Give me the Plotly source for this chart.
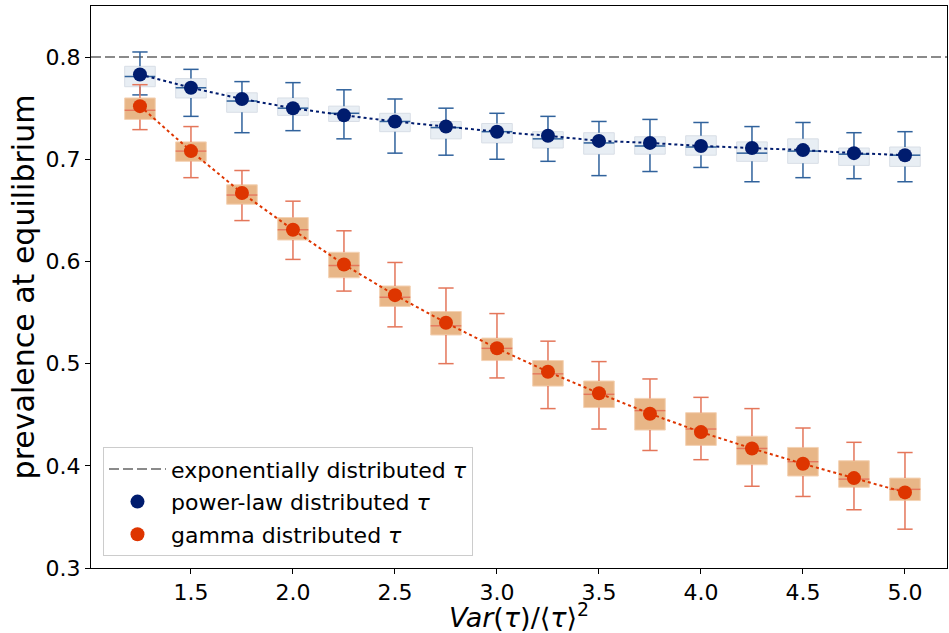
import plotly.graph_objects as go

# ---------------- data ----------------
x_vals = [1.25, 1.5, 1.75, 2.0, 2.25, 2.5, 2.75, 3.0, 3.25, 3.5, 3.75, 4.0, 4.25, 4.5, 4.75, 5.0]

pl_mean   = [0.783, 0.770, 0.759, 0.750, 0.743, 0.737, 0.732, 0.727, 0.723, 0.718, 0.716, 0.713, 0.711, 0.709, 0.706, 0.704]
pl_median = [0.781, 0.770, 0.757, 0.750, 0.745, 0.737, 0.731, 0.727, 0.720, 0.716, 0.713, 0.712, 0.706, 0.708, 0.705, 0.704]
pl_q1     = [0.771, 0.760, 0.746, 0.743, 0.737, 0.727, 0.720, 0.716, 0.711, 0.705, 0.705, 0.704, 0.698, 0.696, 0.694, 0.693]
pl_q3     = [0.791, 0.779, 0.765, 0.760, 0.752, 0.745, 0.737, 0.735, 0.727, 0.726, 0.722, 0.723, 0.717, 0.720, 0.711, 0.712]
pl_lower  = [0.763, 0.742, 0.726, 0.728, 0.720, 0.706, 0.704, 0.700, 0.698, 0.684, 0.688, 0.692, 0.678, 0.682, 0.681, 0.678]
pl_upper  = [0.805, 0.788, 0.776, 0.775, 0.768, 0.759, 0.750, 0.745, 0.742, 0.737, 0.739, 0.736, 0.732, 0.736, 0.726, 0.727]

ga_mean   = [0.752, 0.708, 0.667, 0.631, 0.597, 0.567, 0.540, 0.515, 0.492, 0.471, 0.451, 0.433, 0.417, 0.402, 0.388, 0.374]
ga_median = [0.748, 0.708, 0.665, 0.631, 0.596, 0.565, 0.537, 0.515, 0.490, 0.470, 0.454, 0.436, 0.417, 0.404, 0.387, 0.377]
ga_q1     = [0.739, 0.698, 0.656, 0.621, 0.584, 0.556, 0.528, 0.503, 0.478, 0.457, 0.435, 0.420, 0.401, 0.390, 0.379, 0.366]
ga_q3     = [0.760, 0.717, 0.675, 0.643, 0.609, 0.576, 0.551, 0.525, 0.503, 0.483, 0.466, 0.452, 0.429, 0.418, 0.405, 0.388]
ga_lower  = [0.729, 0.682, 0.640, 0.602, 0.571, 0.536, 0.500, 0.486, 0.456, 0.436, 0.415, 0.406, 0.380, 0.370, 0.357, 0.338]
ga_upper  = [0.773, 0.732, 0.689, 0.659, 0.630, 0.599, 0.574, 0.549, 0.522, 0.502, 0.485, 0.467, 0.456, 0.437, 0.423, 0.413]

exp_level = 0.8

x_ticks = [1.5, 2.0, 2.5, 3.0, 3.5, 4.0, 4.5, 5.0]
y_ticks = [0.3, 0.4, 0.5, 0.6, 0.7, 0.8]

names = ["exponentially distributed <i>τ</i>", "power-law distributed <i>τ</i>", "gamma distributed <i>τ</i>"]

# ---------------- style ----------------
FONT = "DejaVu Sans"
BOX_W = 0.15
CAP_HALF = BOX_W / 4

styles = {
    "pl": dict(marker="#001c6e", whisk="#30629c", fill="rgba(220,229,238,0.65)", edge="#d8dee6"),
    "ga": dict(marker="#de3500", whisk="#e4765a", fill="rgba(227,166,108,0.82)", edge="#f4d2b4"),
}

fig = go.Figure()


def add_series(key, mean, med, q1, q3, lo, hi):
    st = styles[key]
    # boxes
    fig.add_trace(go.Box(
        x=x_vals, q1=q1, median=med, q3=q3, lowerfence=q1, upperfence=q3,
        width=BOX_W, fillcolor=st["fill"], line=dict(color=st["edge"], width=1),
        boxpoints=False, whiskerwidth=0, showlegend=False, hoverinfo="skip",
    ))
    # whiskers, caps and medians built from the data arrays
    wx, wy = [], []
    for x, a, b, c, d, m in zip(x_vals, q1, q3, lo, hi, med):
        wx += [x, x, None, x, x, None]
        wy += [b, d, None, a, c, None]
        wx += [x - CAP_HALF, x + CAP_HALF, None, x - CAP_HALF, x + CAP_HALF, None]
        wy += [d, d, None, c, c, None]
        wx += [x - BOX_W / 2, x + BOX_W / 2, None]
        wy += [m, m, None]
    fig.add_trace(go.Scatter(
        x=wx, y=wy, mode="lines", line=dict(color=st["whisk"], width=1.5),
        showlegend=False, hoverinfo="skip",
    ))
    return st


st_pl = add_series("pl", pl_mean, pl_median, pl_q1, pl_q3, pl_lower, pl_upper)
st_ga = add_series("ga", ga_mean, ga_median, ga_q1, ga_q3, ga_lower, ga_upper)

for mean, st, name, grp, rank in [(pl_mean, st_pl, names[1], "b", 2), (ga_mean, st_ga, names[2], "c", 3)]:
    fig.add_trace(go.Scatter(
        x=x_vals, y=mean, mode="lines", line=dict(color=st["marker"], width=2, dash="dot"),
        showlegend=False, hoverinfo="skip",
    ))
    fig.add_trace(go.Scatter(
        x=x_vals, y=mean, mode="markers", name=name, legendgroup=grp, legendrank=rank,
        marker=dict(color=st["marker"], size=14, line=dict(width=0)),
    ))

fig.add_hline(
    y=exp_level, line=dict(color="#8a8a8a", width=2, dash="10px,4px"),
    showlegend=True, name=names[0], legendgroup="a", legendrank=1, layer="below",
)

axis_common = dict(
    showline=True, linecolor="black", linewidth=1, mirror=True,
    ticks="outside", ticklen=5, tickwidth=1, tickcolor="black",
    showgrid=False, zeroline=False,
    tickfont=dict(family=FONT, size=22, color="black"),
)

fig.update_layout(
    width=949, height=633,
    margin=dict(l=91, r=2, t=6, b=65),
    plot_bgcolor="white", paper_bgcolor="white",
    boxmode="overlay",
    font=dict(family=FONT, color="black"),
    xaxis=dict(
        range=[1.01, 5.206], tickvals=x_ticks, ticktext=[f"{v:.1f}" for v in x_ticks],
        title=dict(text="<i>Var</i>(<i>τ</i>)/⟨<i>τ</i>⟩<sup>2</sup>",
                   font=dict(family=FONT, size=27, color="black"), standoff=4),
        **axis_common,
    ),
    yaxis=dict(
        range=[0.3, 0.85], tickvals=y_ticks, ticktext=[f"{v:.1f}" for v in y_ticks],
        title=dict(text="prevalence at equilibrium",
                   font=dict(family=FONT, size=30, color="black"), standoff=2),
        **axis_common,
    ),
    legend=dict(
        x=0.014, y=0.021, xanchor="left", yanchor="bottom",
        bgcolor="rgba(255,255,255,0.85)", bordercolor="#cccccc", borderwidth=1,
        font=dict(family=FONT, size=22, color="black"),
        traceorder="grouped", tracegroupgap=1, itemwidth=57,
    ),
)

fig.write_html(
    "out.html",
    config={"displayModeBar": False},
    post_script="document.body.style.margin='0';document.documentElement.style.overflow='hidden';",
)
